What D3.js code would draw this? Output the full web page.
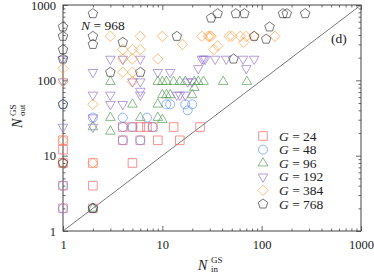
<!DOCTYPE html>
<html><head><meta charset="utf-8">
<script src="https://cdn.jsdelivr.net/npm/d3@7"></script>
<style>body{margin:0;background:#fff} svg{display:block}</style>
</head><body>
<svg id="c" width="374" height="273"></svg>
<script>
// ---- data ----
const groupLabels = ["24", "48", "96", "192", "384", "768"];
const g24X = [1,1,1,1,1,2,2,2,5,4,6,9,15,4,5,6,7,8,13,24];
const g24Y = [2,4,8,12,16,2,4,8,8,16,16,16,16,24,24,24,24,24,24,24];
const g48X = [1,1,1,2,2,4,7,4,5,8,4,6,11,12,17,20,18];
const g48Y = [2,4,48,2,32,32,32,24,24,24,16,16,48,48,48,48,40];
const g96X = [3,9,10,11,13,15,17,21,23,26,41,71,10,11,12,20,21,9,5,3,6,9,10,3,2,2];
const g96Y = [96,96,96,96,96,96,96,96,96,96,96,96,64,64,64,64,80,48,48,32,32,32,30,21,24,2];
const g192X = [1,1,1,3,4,6,25,26,27,34,44,65,84,23,70,2,9,12,5,6,6,6,2,3,3,4,2,2,18,20,14,15,17];
const g192Y = [192,96,24,192,192,192,192,192,192,192,192,192,192,144,144,128,128,128,96,96,72,64,64,64,48,48,32,24,96,96,64,64,64];
const g384X = [1,1,1,1,2,2,3,6,10,25,29,30,31,47,50,61,70,84,136,16,66,36,33,4,5,6,4,5,9,4,5,5];
const g384Y = [144,96,16,8,8,48,384,384,384,384,384,384,384,384,384,384,384,384,384,300,320,288,256,256,256,256,192,192,192,128,128,96];
const g768X = [1,1,1,1,1,1,2,2,2,4,3,6,14,31,36,55,67,164,179,274,120,84,111,52,2];
const g768Y = [8,48,192,256,384,512,768,384,300,320,128,128,384,672,768,768,768,768,768,768,512,384,352,192,2];
const xTicks = [1,10,100,1000];
const yTicks = [1,10,100,1000];
const diagonal = [1,1000];

const colors = ["#ff5a5a","#5b8ff0","#4f9a4f","#9370c8","#ff9c3a","#333333"];
const FONT = "'Liberation Serif','Times New Roman',serif";

// ---- symbols ----
const symSquare = {draw(c,s){const h=4.3;c.moveTo(-h,-h);c.lineTo(h,-h);c.lineTo(h,h);c.lineTo(-h,h);c.closePath();}};
const symCircle = {draw(c,s){c.moveTo(4.5,0);c.arc(0,0,4.5,0,2*Math.PI);}};
const symTriUp = {draw(c,s){const a=4.8,h=a*Math.sqrt(3);c.moveTo(0,-h*2/3);c.lineTo(a,h/3);c.lineTo(-a,h/3);c.closePath();}};
const symTriDown = {draw(c,s){const a=4.8,h=a*Math.sqrt(3);c.moveTo(0,h*2/3);c.lineTo(a,-h/3);c.lineTo(-a,-h/3);c.closePath();}};
const symDiamond = {draw(c,s){const r=5.2;c.moveTo(0,-r);c.lineTo(r,0);c.lineTo(0,r);c.lineTo(-r,0);c.closePath();}};
const symPent = {draw(c,s){const r=5;for(let i=0;i<5;i++){const a=-Math.PI/2+i*2*Math.PI/5;const px=r*Math.cos(a),py=r*Math.sin(a);if(i===0)c.moveTo(px,py);else c.lineTo(px,py);}c.closePath();}};
const symbols = [symSquare,symCircle,symTriUp,symTriDown,symDiamond,symPent];

const series = [
  {xs:g24X, ys:g24Y}, {xs:g48X, ys:g48Y}, {xs:g96X, ys:g96Y},
  {xs:g192X, ys:g192Y}, {xs:g384X, ys:g384Y}, {xs:g768X, ys:g768Y}
];

// ---- scales ----
const L=63,R=361,T=5,B=231;
const x = d3.scaleLog().domain([1,1000]).range([L,R]);
const y = d3.scaleLog().domain([1,1000]).range([B,T]);
const svg = d3.select("#c");

const minors=[];
[1,10,100].forEach(d=>{for(let k=2;k<=9;k++)minors.push(d*k);});

function axis(gen, scale, tr, size, vals, labels, pad){
  const g = svg.append("g").attr("transform",tr)
    .call(gen(scale).tickValues(vals).tickSize(size).tickPadding(pad)
      .tickFormat(labels ? d3.format("d") : ""));
  g.select(".domain").remove();
  g.selectAll("line").attr("stroke","#444").attr("stroke-width",0.8);
  g.selectAll("text").attr("font-family",FONT).attr("font-size",12.5).attr("fill","#222");
  return g;
}
axis(d3.axisBottom,x,`translate(0,${B})`,-5,xTicks,true,9);
axis(d3.axisBottom,x,`translate(0,${B})`,-2.5,minors,false,0);
axis(d3.axisTop,x,`translate(0,${T})`,-5,xTicks,false,0);
axis(d3.axisTop,x,`translate(0,${T})`,-2.5,minors,false,0);
axis(d3.axisLeft,y,`translate(${L},0)`,-5,yTicks,true,7);
axis(d3.axisLeft,y,`translate(${L},0)`,-2.5,minors,false,0);
axis(d3.axisRight,y,`translate(${R},0)`,-5,yTicks,false,0);
axis(d3.axisRight,y,`translate(${R},0)`,-2.5,minors,false,0);

svg.append("rect").attr("x",L).attr("y",T).attr("width",R-L).attr("height",B-T)
  .attr("fill","none").attr("stroke","#444").attr("stroke-width",1);

svg.append("line").attr("x1",x(diagonal[0])).attr("y1",y(diagonal[0]))
  .attr("x2",x(diagonal[1])).attr("y2",y(diagonal[1]))
  .attr("stroke","#555").attr("stroke-width",0.8);

series.forEach((s,i)=>{
  const path = d3.symbol().type(symbols[i]).size(1)();
  svg.append("g").selectAll("path").data(s.xs.map((v,j)=>[v,s.ys[j]])).join("path")
    .attr("d",path)
    .attr("transform",d=>`translate(${x(d[0])},${y(d[1])})`)
    .attr("fill","none").attr("stroke",colors[i]).attr("stroke-width",0.9)
    .attr("stroke-opacity",0.75);
});

const lg = svg.append("g");
groupLabels.forEach((lab,i)=>{
  const yy = 136 + i*13.6;
  lg.append("path").attr("d",d3.symbol().type(symbols[i]).size(1)())
    .attr("transform",`translate(263,${yy})`)
    .attr("fill","none").attr("stroke",colors[i]).attr("stroke-width",0.9).attr("stroke-opacity",0.75);
  const t = lg.append("text").attr("x",279).attr("y",yy+4.5)
    .attr("font-family",FONT).attr("font-size",13.5).attr("fill","#222");
  t.append("tspan").attr("font-style","italic").text("G");
  t.append("tspan").text(" = " + lab);
});

const nt = svg.append("text").attr("x",81).attr("y",30).attr("font-family",FONT)
  .attr("font-size",13.5).attr("fill","#222");
nt.append("tspan").attr("font-style","italic").text("N");
nt.append("tspan").text(" = 968");
svg.append("text").attr("x",331).attr("y",43).attr("font-family",FONT)
  .attr("font-size",13.5).attr("fill","#222").text("(d)");

svg.append("text").attr("x",198).attr("y",270).attr("font-family",FONT).attr("font-size",14)
  .attr("font-style","italic").attr("fill","#222").text("N");
svg.append("text").attr("x",211).attr("y",263).attr("font-family",FONT).attr("font-size",9)
  .attr("fill","#222").text("GS");
svg.append("text").attr("x",211).attr("y",272).attr("font-family",FONT).attr("font-size",9)
  .attr("fill","#222").text("in");
const yt = svg.append("g").attr("transform","translate(22,128) rotate(-90)");
yt.append("text").attr("x",0).attr("y",0).attr("font-family",FONT).attr("font-size",14)
  .attr("font-style","italic").attr("fill","#222").text("N");
yt.append("text").attr("x",12).attr("y",-6.5).attr("font-family",FONT).attr("font-size",9)
  .attr("fill","#222").text("GS");
yt.append("text").attr("x",12).attr("y",3).attr("font-family",FONT).attr("font-size",9)
  .attr("fill","#222").text("out");
</script>
</body></html>
